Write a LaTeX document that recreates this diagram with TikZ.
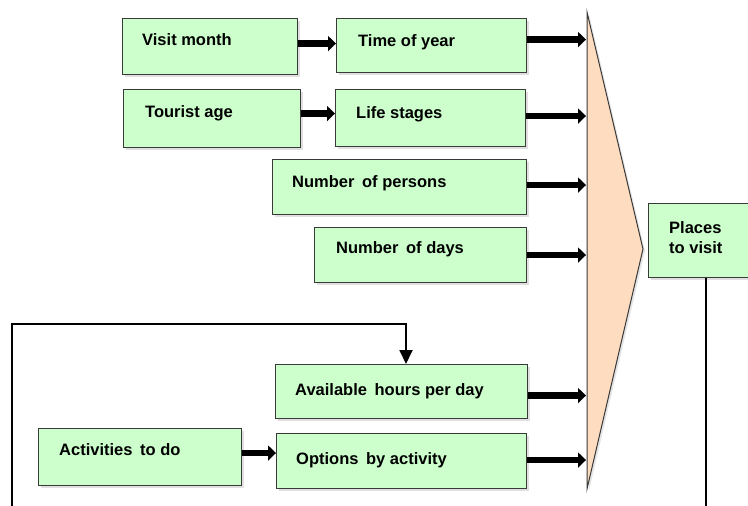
\documentclass[tikz,border=0pt]{standalone}
\usepackage{fontspec}
\setmainfont{Liberation Sans}
\usetikzlibrary{arrows.meta,shadows}
\definecolor{boxgreen}{HTML}{CCFFCC}
\definecolor{boxedge}{HTML}{3A3A3A}
\definecolor{peach}{HTML}{FDDCBF}
\newcommand{\wsp}{\hspace{3pt}}
\begin{document}
\begin{tikzpicture}[x=1pt,y=-1pt,
  box/.style={draw=boxedge, line width=1.1pt, fill=boxgreen, anchor=north west,
    inner sep=0pt, drop shadow={shadow xshift=2pt, shadow yshift=-2pt, fill=black, opacity=0.12}},
  txt/.style={anchor=north west, inner sep=0pt, align=left,
    font=\bfseries\fontsize{16.5}{20}\selectfont},
  fat/.style={line width=6.5pt, -{Triangle[length=8pt,width=15pt]}},
  loopline/.style={line width=1.8pt, -{Triangle[length=14pt,width=13pt]}}
]
\useasboundingbox (0,0) rectangle (748,506);
\clip (0,0) rectangle (748,506);

% funnel
\coordinate (ftop) at (587,12);
\coordinate (fapex) at (643,249);
\coordinate (fbot) at (587,489);
\fill[black, opacity=0.10] ([xshift=2pt,yshift=-2pt]ftop) -- ([xshift=2pt,yshift=-2pt]fapex) -- ([xshift=2pt,yshift=-2pt]fbot) -- cycle;
\draw[fill=peach, draw=boxedge, line width=1pt, line join=miter] (ftop) -- (fapex) -- (fbot) -- cycle;

% input boxes
\node[box, minimum width=175pt, minimum height=56pt,
  label={[txt, xshift=20pt, yshift=-15pt]north west:Visit month}] (vm) at (122,18) {};
\node[box, minimum width=190pt, minimum height=54pt,
  label={[txt, xshift=22pt, yshift=-16pt]north west:Time of year}] (ty) at (336,18) {};
\node[box, minimum width=177pt, minimum height=58pt,
  label={[txt, xshift=22pt, yshift=-16pt]north west:Tourist age}] (ta) at (123,89) {};
\node[box, minimum width=190pt, minimum height=57pt,
  label={[txt, xshift=21pt, yshift=-17pt]north west:Life stages}] (ls) at (335,89) {};
\node[box, minimum width=254pt, minimum height=55pt,
  label={[txt, xshift=20pt, yshift=-16pt]north west:Number\wsp{} of persons}] (np) at (272,159) {};
\node[box, minimum width=212pt, minimum height=55pt,
  label={[txt, xshift=22pt, yshift=-14pt]north west:Number\wsp{} of days}] (nd) at (314,227) {};
\node[box, minimum width=252pt, minimum height=54pt,
  label={[txt, xshift=20pt, yshift=-19pt]north west:Available\wsp{} hours per day}] (ah) at (275,364) {};
\node[box, minimum width=203pt, minimum height=57pt,
  label={[txt, xshift=21pt, yshift=-15pt]north west:Activities\wsp{} to do}] (ac) at (38,428) {};
\node[box, minimum width=250pt, minimum height=55pt,
  label={[txt, xshift=20pt, yshift=-19pt]north west:Options\wsp{} by activity}] (ob) at (276,433) {};

% output box
\node[box, minimum width=110pt, minimum height=74pt,
  label={[txt, xshift=21pt, yshift=-18pt]north west:Places\\to visit}] (pv) at (648,203) {};

% chained inputs
\draw[fat] ([yshift=3pt]vm.east) -- ([yshift=3pt]vm.east -| ty.west);
\draw[fat] ([yshift=5pt]ta.east) -- ([yshift=5pt]ta.east -| ls.west);
\draw[fat] ([yshift=4pt]ac.east) -- ([yshift=4pt]ac.east -| ob.west);

% inputs into the funnel
\draw[fat] ([yshift=6pt]ty.east) -- ([yshift=6pt,xshift=-1pt]ty.east -| ftop);
\draw[fat] ([yshift=2pt]ls.east) -- ([yshift=2pt,xshift=-1pt]ls.east -| ftop);
\draw[fat] ([yshift=2pt]np.east) -- ([yshift=2pt,xshift=-1pt]np.east -| ftop);
\draw[fat] (nd.east) -- ([xshift=-1pt]nd.east -| ftop);
\draw[fat] ([yshift=-4pt]ah.east) -- ([yshift=-4pt,xshift=-1pt]ah.east -| ftop);
\draw[fat] ([yshift=1pt]ob.east) -- ([yshift=1pt,xshift=-1pt]ob.east -| ftop);

% feedback loop back to the available hours
\coordinate (loopR) at (706,515);
\coordinate (loopL) at (12,515);
\coordinate (loopUL) at (12,324);
\coordinate (loopUR) at (406,324);
\draw[loopline] (pv.south -| loopR) -- (loopR) -- (loopL) -- (loopUL) -- (loopUR) -- (ah.north -| loopUR);
\end{tikzpicture}
\end{document}
